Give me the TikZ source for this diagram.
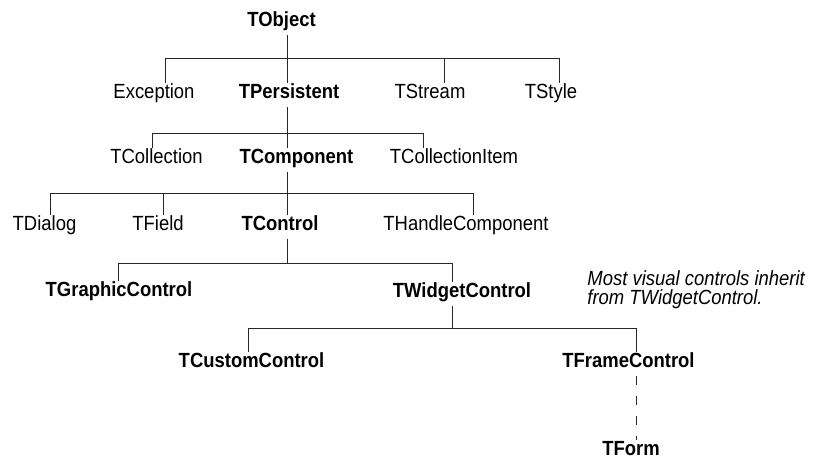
\documentclass[tikz,border=0pt]{standalone}
\usepackage{fontspec}
\setmainfont[FakeStretch=0.9]{Liberation Sans}
\newcommand{\kid}[3]{\draw (#2.north -| #3,0) |- (#1);}
\tikzset{
    cls/.style={anchor=base, inner sep=0pt, text height=14.5pt, text depth=9pt,
        font=\fontsize{20.5}{17}\selectfont},
    core/.style={cls, font=\fontsize{20.5}{17}\selectfont\bfseries},
    note/.style={anchor=north west, inner sep=0pt, align=left,
        font=\fontsize{20.5}{19}\selectfont\itshape},
}
\begin{document}
\begin{tikzpicture}[x=1pt, y=-1pt, line width=0.9pt, draw=black!85]
    \useasboundingbox (0,0) rectangle (817,458);
    \node[core] (TObject) at (281.5, 26) {TObject};
    \node[cls] (Exception) at (154, 98) {Exception};
    \node[core] (TPersistent) at (289, 98) {TPersistent};
    \node[cls] (TStream) at (430, 98) {TStream};
    \node[cls] (TStyle) at (551, 98) {TStyle};
    \node[cls] (TCollection) at (156.5, 163) {TCollection};
    \node[core] (TComponent) at (296.5, 163) {TComponent};
    \node[cls] (TCollectionItem) at (454, 163) {TCollectionItem};
    \node[cls] (TDialog) at (44.5, 230) {TDialog};
    \node[cls] (TField) at (158, 230) {TField};
    \node[core] (TControl) at (280, 230) {TControl};
    \node[cls] (THandleComponent) at (466, 230) {THandleComponent};
    \node[core] (TGraphicControl) at (119, 296) {TGraphicControl};
    \node[core] (TWidgetControl) at (462, 297) {TWidgetControl};
    \node[core] (TCustomControl) at (251.5, 367) {TCustomControl};
    \node[core] (TFrameControl) at (628.5, 367) {TFrameControl};
    \node[core] (TForm) at (631, 455) {TForm};
    \node[note] (hint) at (587, 270) {Most visual controls inherit\\from TWidgetControl.};

    \coordinate (j1) at (287, 58);
    \coordinate (j2) at (287, 133);
    \coordinate (j3) at (287, 193);
    \coordinate (j4) at (287, 263);
    \coordinate (j5) at (452, 328);

    \draw (j1 |- TObject.south) -- (j1);
    \kid{j1}{Exception}{165}
    \kid{j1}{TPersistent}{287}
    \kid{j1}{TStream}{444}
    \kid{j1}{TStyle}{559}

    \draw (j2 |- TPersistent.south) -- (j2);
    \kid{j2}{TCollection}{152}
    \kid{j2}{TComponent}{287}
    \kid{j2}{TCollectionItem}{423}

    \draw (j3 |- TComponent.south) -- (j3);
    \kid{j3}{TDialog}{50}
    \kid{j3}{TField}{163}
    \kid{j3}{TControl}{287}
    \kid{j3}{THandleComponent}{473}

    \draw (j4 |- TControl.south) -- (j4);
    \kid{j4}{TGraphicControl}{118}
    \kid{j4}{TWidgetControl}{452}

    \draw (j5 |- TWidgetControl.south) -- (j5);
    \kid{j5}{TCustomControl}{248}
    \kid{j5}{TFrameControl}{636}

    \draw[dash pattern=on 9pt off 11pt] (TFrameControl.south -| 636,0) -- (TForm.north -| 636,0);
\end{tikzpicture}
\end{document}
